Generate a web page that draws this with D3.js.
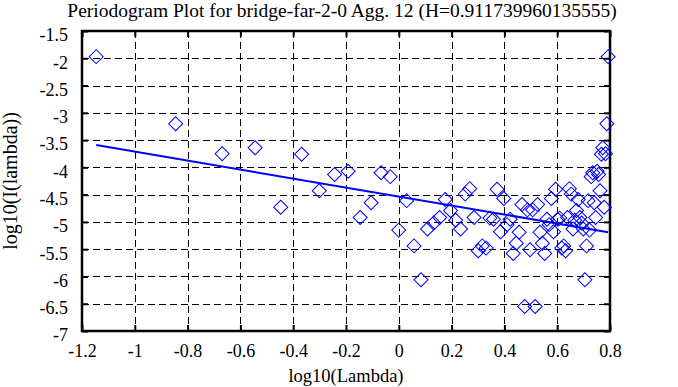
<!DOCTYPE html>
<html>
<head>
<meta charset="utf-8">
<script src="https://cdn.jsdelivr.net/npm/d3@7"></script>
<style>
  html, body { margin: 0; padding: 0; background: #fff; }
  svg { display: block; }
  text { font-family: "Liberation Serif", "DejaVu Serif", serif; fill: #000; }
</style>
</head>
<body>
<script>
// ---- Data ----
const titleText = "Periodogram Plot for bridge-far-2-0 Agg. 12 (H=0.911739960135555)";
const xLabel = "log10(Lambda)";
const yLabel = "log10(I(lambda))";

// log10(Lambda) of each periodogram point
const logLambda = [
  -1.1463, -0.8453, -0.6692, -0.5442, -0.4473, -0.3681, -0.3012, -0.2432, -0.1921, -0.1463,
  -0.1049, -0.0671, -0.0324, -0.0002, 0.0298, 0.0578, 0.0841, 0.1090, 0.1324, 0.1547,
  0.1759, 0.1961, 0.2154, 0.2339, 0.2516, 0.2687, 0.2851, 0.3009, 0.3161, 0.3308,
  0.3451, 0.3588, 0.3722, 0.3852, 0.3977, 0.4100, 0.4219, 0.4335, 0.4448, 0.4558,
  0.4665, 0.4769, 0.4872, 0.4971, 0.5069, 0.5165, 0.5258, 0.5349, 0.5439, 0.5527,
  0.5613, 0.5697, 0.5780, 0.5861, 0.5940, 0.6018, 0.6096, 0.6171, 0.6246, 0.6318,
  0.6390, 0.6461, 0.6530, 0.6598, 0.6666, 0.6732, 0.6798, 0.6862, 0.6925, 0.6988,
  0.7049, 0.7110, 0.7170, 0.7229, 0.7288, 0.7345, 0.7402, 0.7458, 0.7513, 0.7568,
  0.7622, 0.7675, 0.7727, 0.7779, 0.7830, 0.7880, 0.7930
];
// log10(I(lambda)) of each point
const logI = [
  -1.97, -3.20, -3.75, -3.64, -4.73, -3.76, -4.43, -4.13, -4.07, -4.92,
  -4.65, -4.10, -4.17, -5.15, -4.61, -5.44, -6.06, -5.13, -5.02, -4.92,
  -4.59, -4.79, -4.97, -5.13, -4.49, -4.39, -4.92, -5.53, -5.44, -5.48,
  -4.93, -4.95, -4.40, -5.18, -4.57, -5.05, -4.95, -5.58, -5.39, -5.19,
  -4.68, -6.55, -4.78, -5.51, -4.78, -6.55, -4.68, -5.19, -5.39, -5.58,
  -4.95, -5.05, -4.57, -5.18, -4.40, -4.95, -4.93, -5.48, -5.44, -5.53,
  -4.92, -4.39, -4.49, -5.13, -4.97, -4.79, -4.59, -4.92, -5.02, -5.13,
  -6.06, -5.44, -4.61, -5.15, -4.17, -4.10, -4.65, -4.92, -4.07, -4.13,
  -4.43, -3.76, -3.64, -4.73, -3.75, -3.20, -1.97
];
// least-squares fit line end points
const fitX = [-1.1463, 0.7930];
const fitY = [-3.591, -5.188];

const xTicks = [-1.2, -1, -0.8, -0.6, -0.4, -0.2, 0, 0.2, 0.4, 0.6, 0.8];
const xTickLabels = ["-1.2", "-1", "-0.8", "-0.6", "-0.4", "-0.2", "0", "0.2", "0.4", "0.6", "0.8"];
const yTicks = [-1.5, -2, -2.5, -3, -3.5, -4, -4.5, -5, -5.5, -6, -6.5, -7];
const yTickLabels = ["-1.5", "-2", "-2.5", "-3", "-3.5", "-4", "-4.5", "-5", "-5.5", "-6", "-6.5", "-7"];

// ---- Layout ----
const W = 678, H = 387;
const m = { left: 82, right: 68, top: 31, bottom: 56 };
const pw = W - m.left - m.right, ph = H - m.top - m.bottom;

const svg = d3.select("body").append("svg").attr("width", W).attr("height", H);

const x = d3.scaleLinear().domain([-1.2, 0.8]).range([m.left, m.left + pw]);
const y = d3.scaleLinear().domain([-7, -1.5]).range([m.top + ph, m.top]);

// Title
svg.append("text").attr("x", 342).attr("y", 17)
  .attr("text-anchor", "middle").style("font-size", "19.5px").text(titleText);

// Grid (dashed)
const grid = svg.append("g").attr("stroke", "#000").attr("stroke-width", 1)
  .attr("stroke-dasharray", "7,4").attr("shape-rendering", "crispEdges");
grid.selectAll("line.gx").data(xTicks.slice(1, -1)).join("line")
  .attr("x1", d => Math.round(x(d)) + 0.5).attr("x2", d => Math.round(x(d)) + 0.5)
  .attr("y1", m.top).attr("y2", m.top + ph);
grid.selectAll("line.gy").data(yTicks.slice(1, -1)).join("line")
  .attr("class", "gy")
  .attr("y1", d => Math.round(y(d)) + 0.5).attr("y2", d => Math.round(y(d)) + 0.5)
  .attr("x1", m.left).attr("x2", m.left + pw);

// Axes with inward ticks, labels from tick label arrays
const axB = svg.append("g").attr("transform", `translate(0,${m.top + ph})`)
  .call(d3.axisBottom(x).tickValues(xTicks).tickSize(-6).tickPadding(12)
    .tickFormat((d, i) => xTickLabels[i]));
const axT = svg.append("g").attr("transform", `translate(0,${m.top})`)
  .call(d3.axisTop(x).tickValues(xTicks).tickSize(-6).tickFormat(""));
const axL = svg.append("g").attr("transform", `translate(${m.left},0)`)
  .call(d3.axisLeft(y).tickValues(yTicks).tickSize(-6).tickPadding(14)
    .tickFormat((d, i) => yTickLabels[i]));
const axR = svg.append("g").attr("transform", `translate(${m.left + pw},0)`)
  .call(d3.axisRight(y).tickValues(yTicks).tickSize(-6).tickFormat(""));
[axB, axT, axL, axR].forEach(a => {
  a.select(".domain").remove();
  a.selectAll(".tick line").attr("stroke", "#000").attr("stroke-width", 2);
  a.selectAll("text").style("font-size", "18px").attr("fill", "#000")
    .style("font-family", '"Liberation Serif", serif');
});
axL.selectAll("text").attr("dy", "0.55em");
axB.selectAll("text").attr("dy", "0.75em");

// Frame
svg.append("rect").attr("x", m.left).attr("y", m.top).attr("width", pw).attr("height", ph)
  .attr("fill", "none").attr("stroke", "#000").attr("stroke-width", 2.5);

// Points (diamonds)
const pts = logLambda.map((v, i) => ({ x: v, y: logI[i] }));
const diamond = d3.symbol(d3.symbolSquare, 98)();
svg.append("g").selectAll("path").data(pts).join("path")
  .attr("d", diamond)
  .attr("transform", d => `translate(${x(d.x)},${y(d.y)}) rotate(45)`)
  .attr("fill", "none").attr("stroke", "#0000ff").attr("stroke-width", 1);

// Fit line
svg.append("path")
  .datum(fitX.map((v, i) => [v, fitY[i]]))
  .attr("d", d3.line().x(d => x(d[0])).y(d => y(d[1])))
  .attr("fill", "none").attr("stroke", "#0000ff").attr("stroke-width", 2);

// Axis titles
svg.append("text").attr("x", m.left + pw / 2).attr("y", 382)
  .attr("text-anchor", "middle").style("font-size", "18.5px").text(xLabel);
svg.append("text").attr("transform", `translate(17,${m.top + ph / 2}) rotate(-90)`)
  .attr("text-anchor", "middle").style("font-size", "20px").text(yLabel);
</script>
</body>
</html>
